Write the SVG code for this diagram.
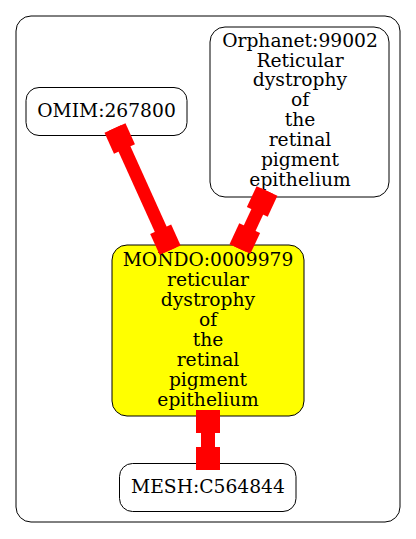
<svg xmlns="http://www.w3.org/2000/svg" width="416" height="539" viewBox="0 0 416 539">
<style>
.node{fill:#fff;stroke:#000;stroke-width:1}
.hl{fill:#ffff00}
text{font-family:"DejaVu Serif",serif;font-size:18.7px;text-anchor:middle;fill:#000}
.e{fill:#ff0000}
</style>
<rect x="0" y="0" width="416" height="539" fill="#fff"/>
<rect x="16" y="16" width="384" height="506" rx="15" fill="none" stroke="#000"/>
<g id="OMIM_267800">
<rect class="node" x="26" y="87.5" width="161" height="48" rx="13"/>
<text x="106.5" y="117.3">OMIM:267800</text>
</g>
<g id="Orphanet_99002">
<rect class="node" x="210" y="27" width="179" height="170" rx="15"/>
<text x="300" y="46.7">Orphanet:99002</text>
<text x="300" y="66.6">Reticular</text>
<text x="300" y="86.4">dystrophy</text>
<text x="300" y="106.3">of</text>
<text x="300" y="126.1">the</text>
<text x="300" y="146">retinal</text>
<text x="300" y="165.8">pigment</text>
<text x="300" y="185.7">epithelium</text>
</g>
<g id="MONDO_0009979">
<rect class="node hl" x="112" y="245" width="192" height="171" rx="15"/>
<text x="208" y="265.7">MONDO:0009979</text>
<text x="208" y="285.7">reticular</text>
<text x="208" y="305.7">dystrophy</text>
<text x="208" y="325.7">of</text>
<text x="208" y="345.7">the</text>
<text x="208" y="365.7">retinal</text>
<text x="208" y="385.7">pigment</text>
<text x="208" y="405.7">epithelium</text>
</g>
<g id="MESH_C564844">
<rect class="node" x="119.5" y="463.5" width="176.5" height="48" rx="13"/>
<text x="208" y="492.7">MESH:C564844</text>
</g>
<g id="edges">
<g class="e" transform="translate(115,128) rotate(65.7)">
<rect x="0" y="-11.5" width="23" height="23"/>
<rect x="0" y="-6.5" width="134" height="13"/>
<rect x="111" y="-11.5" width="23" height="23"/>
</g>
<g class="e" transform="translate(267,191) rotate(115)">
<rect x="0" y="-11.5" width="23" height="23"/>
<rect x="0" y="-6.5" width="64" height="13"/>
<rect x="41" y="-11.5" width="23" height="23"/>
</g>
<g class="e" transform="translate(208,410) rotate(90)">
<rect x="0" y="-12" width="23" height="24"/>
<rect x="0" y="-7" width="60" height="14"/>
<rect x="37" y="-12" width="23" height="24"/>
</g>
</g>
</svg>
